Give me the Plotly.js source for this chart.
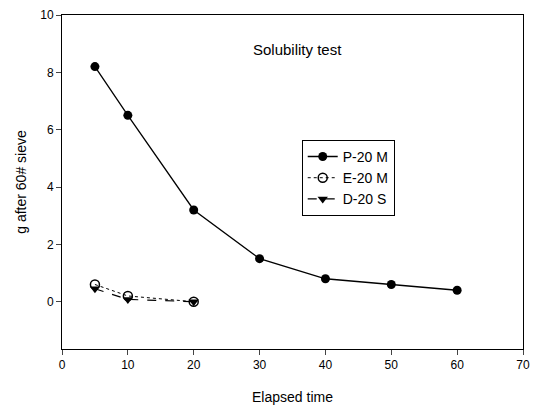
<!DOCTYPE html>
<html><head><meta charset="utf-8">
<script src="https://cdn.plot.ly/plotly-3.0.1.min.js"></script>
<style>body{margin:0;background:#fff}#c{width:533px;height:409px}</style>
</head><body><div id="c"></div>
<script>
const timeP = [5, 10, 20, 30, 40, 50, 60];
const valP = [8.2, 6.5, 3.2, 1.5, 0.8, 0.6, 0.4];
const timeE = [5, 10, 20];
const valE = [0.6, 0.2, 0.0];
const timeD = [5, 10, 20];
const valD = [0.45, 0.08, 0.0];
const xTicks = [0, 10, 20, 30, 40, 50, 60, 70];
const yTicks = [0, 2, 4, 6, 8, 10];

const traces = [
  {x: timeP, y: valP, name: 'P-20 M', mode: 'lines+markers',
   line: {color: '#000', width: 1.3, dash: 'solid'},
   marker: {symbol: 'circle', size: 9, color: '#000'}},
  {x: timeE, y: valE, name: 'E-20 M', mode: 'lines+markers',
   line: {color: '#000', width: 1, dash: 'dot'},
   marker: {symbol: 'circle-open', size: 9, color: '#000', line: {width: 1.5, color: '#000'}}},
  {x: timeD, y: valD, name: 'D-20 S', mode: 'lines+markers',
   line: {color: '#000', width: 1.2, dash: 'dash'},
   marker: {symbol: 'triangle-down', size: 9, color: '#000'}}
];

const layout = {
  width: 533, height: 409,
  margin: {l: 62, r: 10, t: 15, b: 60},
  paper_bgcolor: '#fff', plot_bgcolor: '#fff',
  font: {family: 'Liberation Sans, Arial, sans-serif', size: 12, color: '#000'},
  showlegend: true,
  legend: {x: 0.52, y: 0.626, xanchor: 'left', yanchor: 'top',
    bordercolor: '#000', borderwidth: 1, bgcolor: '#fff',
    font: {size: 14}, tracegroupgap: 0},
  xaxis: {range: [0, 70], tickvals: xTicks, ticks: 'outside', ticklen: 5,
    showline: true, linecolor: '#000', linewidth: 1, mirror: true,
    showgrid: false, zeroline: false,
    title: {text: 'Elapsed time', font: {size: 14}, standoff: 20}},
  yaxis: {range: [-1.65, 10], tickvals: yTicks, ticks: 'outside', ticklen: 5,
    showline: true, linecolor: '#000', linewidth: 1, mirror: true,
    showgrid: false, zeroline: false,
    title: {text: 'g after 60# sieve', font: {size: 14}, standoff: 10}},
  annotations: [{xref: 'x', yref: 'y', x: 35.7, y: 8.78, text: 'Solubility test',
    showarrow: false, font: {size: 15}}]
};
Plotly.newPlot('c', traces, layout, {displayModeBar: false, staticPlot: true});
</script></body></html>
